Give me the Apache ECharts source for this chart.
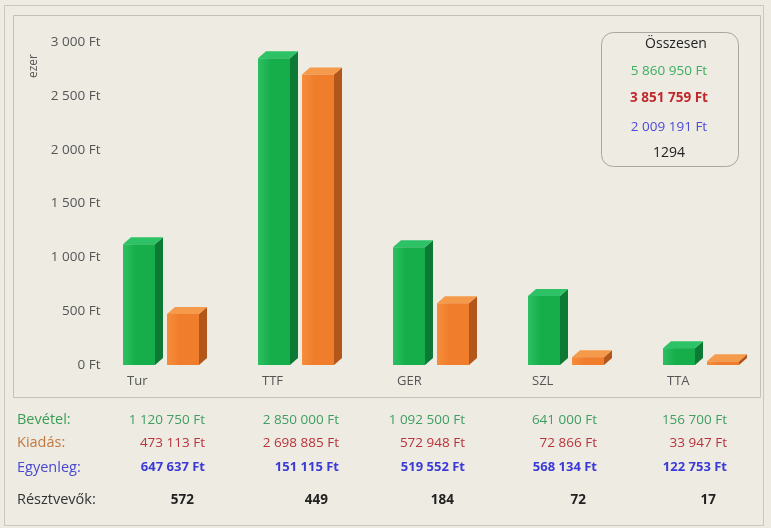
<!DOCTYPE html>
<html>
<head>
<meta charset="utf-8">
<script src="https://cdn.jsdelivr.net/npm/echarts@6/dist/echarts.min.js"></script>
<style>
  html, body { margin: 0; padding: 0; background: #eeebe3; }
  #chart { width: 771px; height: 528px; }
</style>
</head>
<body>
<div id="chart"></div>
<script>
// adatok (Ft)
const categories = ['Tur', 'TTF', 'GER', 'SZL', 'TTA'];
const bevetel = [1120750, 2850000, 1092500, 641000, 156700];
const kiadas = [473113, 2698885, 572948, 72866, 33947];
const egyenleg = [647637, 151115, 519552, 568134, 122753];
const resztvevok = [572, 449, 184, 72, 17];
const osszesen = [5860950, 3851759, 2009191, 1294];
const yTicks = [0, 500, 1000, 1500, 2000, 2500, 3000]; // ezer Ft

const fmt = (v) => String(v).replace(/\B(?=(\d{3})+(?!\d))/g, ' ');
const ft = (v) => fmt(v) + ' Ft';

const chart = echarts.init(document.getElementById('chart'));
const FONT = 'Open Sans';
const FRONT_W = 32;
const DX = 8, DY = 7;

// 3D oszlop: elolap + oldallap + teteje
function bar3d(colors, offsetX, withLabel) {
  return function (params, api) {
    const idx = api.value(0);
    const top = api.coord([idx, api.value(1)]);
    const base = api.coord([idx, 0]);
    const x0 = top[0] + offsetX;
    const x1 = x0 + FRONT_W;
    const yT = top[1];
    const yB = base[1];
    const children = [
      {
        type: 'polygon',
        shape: { points: [[x1, yT], [x1 + DX, yT - DY], [x1 + DX, yB - DY], [x1, yB]] },
        style: { fill: colors[1] },
      },
      {
        type: 'polygon',
        shape: { points: [[x0, yT], [x0 + DX, yT - DY], [x1 + DX, yT - DY], [x1, yT]] },
        style: { fill: colors[2] },
      },
      {
        type: 'rect',
        shape: { x: x0, y: yT, width: FRONT_W, height: yB - yT },
        style: {
          fill: new echarts.graphic.LinearGradient(0, 0, 1, 0, [
            { offset: 0, color: colors[3] },
            { offset: 0.4, color: colors[0] },
            { offset: 1, color: colors[0] },
          ]),
        },
      },
    ];
    if (withLabel) {
      children.push({
        type: 'text',
        x: x0 + 4,
        y: yB + 10,
        style: {
          text: categories[params.dataIndex],
          fill: '#555',
          font: '13px "' + FONT + '"',
          textAlign: 'left',
        },
      });
    }
    return { type: 'group', children: children };
  };
}

// táblázat szövegek
const rows = [
  { label: 'Bevétel:', labelColor: '#3a9d55', color: '#3f9e62', bold: false, y: 413, vals: bevetel.map(ft) },
  { label: 'Kiadás:', labelColor: '#c0783e', color: '#b8333a', bold: false, y: 436, vals: kiadas.map(ft) },
  { label: 'Egyenleg:', labelColor: '#4848d0', color: '#3a3ad8', bold: true, y: 461, vals: egyenleg.map(ft) },
  { label: 'Résztvevők:', labelColor: '#333', color: '#222', bold: true, y: 493, vals: resztvevok.map(String) },
];
const colRight = [205, 339, 465, 597, 727];
const graphics = [];
rows.forEach((r, ri) => {
  graphics.push({
    type: 'text', left: 17, top: r.y - 1,
    style: { text: r.label, fill: r.labelColor, font: '14.5px "' + FONT + '"' },
  });
  r.vals.forEach((v, i) => {
    graphics.push({
      type: 'text',
      x: ri === 3 ? colRight[i] - 11 : colRight[i],
      y: r.y,
      style: {
        text: v, fill: r.color, textAlign: 'right',
        font: (r.bold ? 'bold ' : '') + (ri === 2 ? '13px' : '13.5px') + ' "' + FONT + '"',
      },
    });
  });
});

const totalColors = ['#3fae62', '#c0282d', '#4a4ad8', '#222'];
const totalY = [64, 91, 120, 146];

const option = {
  backgroundColor: '#eeebe3',
  animation: false,
  grid: { left: 95.5, right: 0.5, top: 42, bottom: 163 },
  xAxis: {
    type: 'category',
    data: categories,
    axisLine: { show: false },
    axisTick: { show: false },
    axisLabel: { show: false },
  },
  yAxis: {
    type: 'value',
    min: yTicks[0],
    max: yTicks[yTicks.length - 1],
    interval: yTicks[1] - yTicks[0],
    splitLine: { show: false },
    axisLine: { show: false },
    axisTick: { show: false },
    axisLabel: {
      margin: -5,
      color: '#555',
      fontFamily: FONT,
      fontSize: 13.5,
      formatter: (v) => fmt(v) + ' Ft',
    },
  },
  graphic: [
    // keretek
    {
      type: 'rect', shape: { x: 4.5, y: 5.5, width: 759, height: 520 },
      style: { fill: 'none', stroke: '#c9c7c0', lineWidth: 1 }, silent: true,
    },
    {
      type: 'rect', shape: { x: 13.5, y: 15.5, width: 747, height: 382 },
      style: { fill: 'none', stroke: '#c3c1ba', lineWidth: 1 }, silent: true,
    },
    {
      type: 'text', x: 28, y: 78, rotation: Math.PI / 2,
      style: { text: 'ezer', fill: '#555', font: '12px "' + FONT + '"' },
    },
    // összesen doboz
    {
      type: 'rect', shape: { x: 601.5, y: 32.5, width: 137, height: 134, r: 12 },
      style: { fill: 'none', stroke: '#a9a7a2', lineWidth: 1 },
    },
    {
      type: 'text', x: 676, y: 37,
      style: { text: 'Összesen', fill: '#222', textAlign: 'center', font: '14px "' + FONT + '"' },
    },
    ...osszesen.map((v, i) => ({
      type: 'text', x: 669, y: totalY[i],
      style: {
        text: i < 3 ? ft(v) : String(v),
        fill: totalColors[i],
        textAlign: 'center',
        font: (i === 1 ? 'bold ' : '') + (i === 3 ? '14px' : '13.5px') + ' "' + FONT + '"',
      },
    })),
    ...graphics,
  ],
  series: [
    {
      name: 'Bevétel',
      type: 'custom',
      renderItem: bar3d(['#16ad4b', '#0c7a34', '#2dc265', '#2cc062'], -40, true),
      encode: { x: 0, y: 1 },
      data: bevetel.map((v, i) => [i, v / 1000]),
    },
    {
      name: 'Kiadás',
      type: 'custom',
      renderItem: bar3d(['#ef7d2b', '#b3561a', '#f59a4a', '#f58d3c'], 4, false),
      encode: { x: 0, y: 1 },
      data: kiadas.map((v, i) => [i, v / 1000]),
    },
  ],
};
chart.setOption(option);
</script>
</body>
</html>
